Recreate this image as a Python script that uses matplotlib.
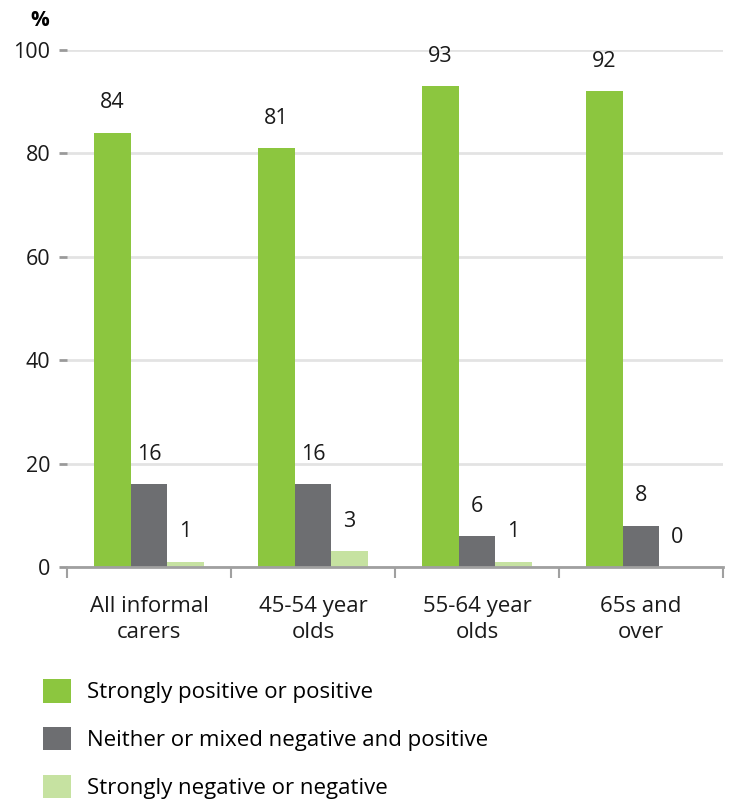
import matplotlib
matplotlib.use("Agg")
import matplotlib.pyplot as plt
import numpy as np

categories = ["All informal\ncarers", "45-54 year\nolds", "55-64 year\nolds", "65s and\nover"]
series_names = [
    "Strongly positive or positive",
    "Neither or mixed negative and positive",
    "Strongly negative or negative",
]
positive = [84, 81, 93, 92]
mixed = [16, 16, 6, 8]
negative = [1, 3, 1, 0]
colors = ["#8cc63f", "#6d6e71", "#c6e2a1"]

plt.rcParams["font.family"] = ["Open Sans", "DejaVu Sans"]

fig = plt.figure(figsize=(7.29, 8.02), dpi=100)
ax = fig.add_axes([67 / 729, 235 / 802, 656 / 729, 517 / 802])

x = np.arange(len(categories))
w = 0.222
values = [positive, mixed, negative]
for i, (vals, col, name) in enumerate(zip(values, colors, series_names)):
    xs = x + (i - 1) * w
    ax.bar(xs, vals, width=w, color=col, label=name, zorder=3)
    for xi, v in zip(xs, vals):
        ax.annotate(str(v), (xi, v), xytext=(0, 21.5), textcoords="offset points",
                    ha="center", va="center", fontsize=15.5, color="#1a1a1a")

ax.set_xlim(-0.5, len(categories) - 0.5)
ax.set_ylim(0, 100)
ax.set_yticks(range(0, 101, 20))
ax.yaxis.grid(True, color="#e3e3e3", linewidth=2, zorder=0)
ax.tick_params(axis="y", length=6, width=2, color="#9a9a9a", labelsize=15.5,
               labelcolor="#1a1a1a", pad=6)
for s in ["left", "right", "top"]:
    ax.spines[s].set_visible(False)
ax.spines["bottom"].set_color("#a0a0a0")
ax.spines["bottom"].set_linewidth(2)
ax.spines["bottom"].set_zorder(4)

# category boundaries as ticks, labels as minor ticks
ax.set_xticks(np.arange(-0.5, len(categories), 1.0))
ax.set_xticklabels([])
ax.tick_params(axis="x", which="major", length=8, width=1.5, color="#a0a0a0", direction="out")
ax.set_xticks(x, minor=True)
ax.set_xticklabels(categories, minor=True, fontsize=16, color="#1a1a1a", linespacing=1.3)
ax.tick_params(axis="x", which="minor", length=0, pad=21)

fig.text(40 / 729, 1 - 20 / 802, "%", fontsize=15, fontweight="bold", ha="center", va="center")

fig.legend(loc="upper left", bbox_to_anchor=(34 / 729, 1 - 670 / 802), frameon=False,
           fontsize=16, handlelength=1.26, handleheight=1.26, handletextpad=0.72,
           labelspacing=1.06, borderaxespad=0)

fig.savefig("out.png", dpi=100)
